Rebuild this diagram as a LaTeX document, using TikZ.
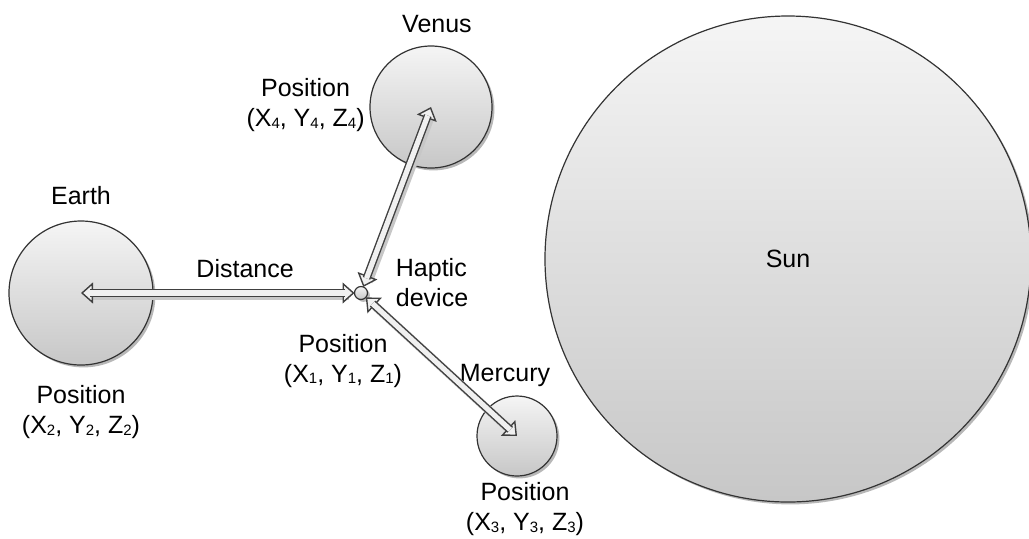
\documentclass[tikz,border=0pt]{standalone}
\usepackage{fontspec}
\setmainfont{Liberation Sans}
\usetikzlibrary{positioning,arrows.meta,shadows}
\newcommand{\ix}[1]{\raisebox{-0.8pt}{\fontsize{7.5}{8}\selectfont #1}}
\tikzset{
  planet/.style={circle,draw=black!80,line width=0.6pt,inner sep=0pt,outer sep=0pt,
    top color=black!4,bottom color=black!22,
    drop shadow={shadow xshift=1.2pt,shadow yshift=-1.2pt,fill=black!35,opacity=0.8}},
  lbl/.style={align=center,inner sep=2pt},
  linkshade/.style={draw=black!22,line width=4.4pt,shorten <=4pt,shorten >=4pt,
    transform canvas={shift={(1.1pt,-1.1pt)}}},
  linkhead/.style={draw=black!75,line width=0.7pt,
    {Triangle[open,fill=black!6,length=6pt,width=10.5pt]}-{Triangle[open,fill=black!6,length=6pt,width=10.5pt]}},
  linkbody/.style={draw=black!75,line width=0.7pt,double=black!6,double distance=2.6pt,
    shorten <=4.6pt,shorten >=4.6pt},
}
\begin{document}
\begin{tikzpicture}[x=0.5pt,y=-0.5pt,font=\fontsize{12.5}{15}\selectfont]
\useasboundingbox (0,0) rectangle (1029,538);

% bodies
\node[planet,minimum size=243pt] (sun) at (788,259) {Sun};
\node[planet,minimum size=72pt] (earth) at (81,293) {};
\node[planet,minimum size=61pt] (venus) at (431,107) {};
\node[planet,minimum size=40pt] (mercury) at (517,436) {};
\node[planet,minimum size=6.5pt] (haptic) at (361,293) {};

% names
\node[lbl,above=6pt of earth] (earthname) {Earth};
\node[lbl,above=4.5pt of venus,xshift=3pt] (venusname) {Venus};
\node[lbl,above=2.4pt of mercury,xshift=-6pt] (mercuryname) {Mercury};
\node[lbl,right=12pt of haptic,yshift=5pt,align=left] (hapticname) {Haptic\\device};

% positions
\node[lbl,below=8pt of earth] (earthpos) {Position\\(X\ix{2}, Y\ix{2}, Z\ix{2})};
\node[lbl,left=0.5pt of venus,yshift=1pt] (venuspos) {Position\\(X\ix{4}, Y\ix{4}, Z\ix{4})};
\node[lbl,below=1pt of mercury,xshift=4pt] (mercurypos) {Position\\(X\ix{3}, Y\ix{3}, Z\ix{3})};
\node[lbl,below=15pt of haptic,xshift=-9pt] (hapticpos) {Position\\(X\ix{1}, Y\ix{1}, Z\ix{1})};

% links
\path (earth.center) edge[linkshade] (haptic)
                     edge[linkhead] (haptic)
                     edge[linkbody] node[above=4pt,pos=0.6] (dist) {Distance} (haptic);
\path (haptic) edge[linkshade] (venus.center)
               edge[linkhead] (venus.center)
               edge[linkbody] (venus.center);
\path (haptic) edge[linkshade] (mercury.center)
               edge[linkhead] (mercury.center)
               edge[linkbody] (mercury.center);

\end{tikzpicture}
\end{document}
